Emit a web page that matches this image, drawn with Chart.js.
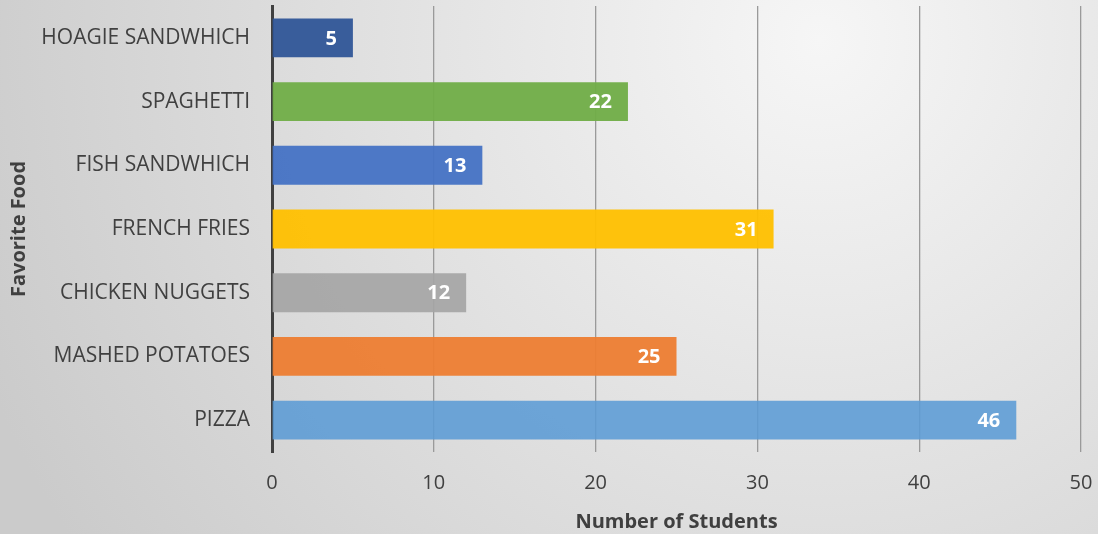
<!DOCTYPE html>
<html>
<head>
<meta charset="utf-8">
<script src="https://cdn.jsdelivr.net/npm/chart.js@4"></script>
<style>
  html, body { margin: 0; padding: 0; background: #ddd; }
  canvas { display: block; }
</style>
</head>
<body>
<canvas id="foodChart" width="1098" height="534"></canvas>
<script>
// data
var foods = ['HOAGIE SANDWHICH', 'SPAGHETTI', 'FISH SANDWHICH', 'FRENCH FRIES', 'CHICKEN NUGGETS', 'MASHED POTATOES', 'PIZZA'];
var students = [5, 22, 13, 31, 12, 25, 46];
var barColors = ['rgba(47,85,151,0.95)', 'rgba(112,173,71,0.95)', 'rgba(68,114,196,0.95)', 'rgba(255,192,0,0.95)',
                 'rgba(165,165,165,0.92)', 'rgba(237,125,49,0.95)', 'rgba(91,155,213,0.88)'];
var xTicks = [0, 10, 20, 30, 40, 50];

var FONT = '"Open Sans", "Noto Sans", sans-serif';

// grey gradient behind everything
var bgPlugin = {
  id: 'bg',
  beforeDraw: function (chart) {
    var ctx = chart.ctx;
    var g = ctx.createRadialGradient(820, 40, 0, 820, 40, 900);
    g.addColorStop(0, '#f6f6f6');
    g.addColorStop(1, '#cbcbcb');
    ctx.save();
    ctx.fillStyle = g;
    ctx.fillRect(0, 0, chart.width, chart.height);
    ctx.restore();
  }
};

// white value labels at the end of each bar
var valuePlugin = {
  id: 'values',
  afterDatasetsDraw: function (chart) {
    var ctx = chart.ctx;
    var meta = chart.getDatasetMeta(0);
    ctx.save();
    ctx.fillStyle = '#ffffff';
    ctx.font = 'bold 20px ' + FONT;
    ctx.textAlign = 'right';
    ctx.textBaseline = 'middle';
    meta.data.forEach(function (bar, i) {
      ctx.fillText(String(students[i]), bar.x - 16, bar.y + 1);
    });
    ctx.restore();
  }
};

new Chart(document.getElementById('foodChart'), {
  type: 'bar',
  data: {
    labels: foods,
    datasets: [{
      data: students,
      backgroundColor: barColors,
      borderWidth: 0,
      categoryPercentage: 1,
      barPercentage: 0.61
    }]
  },
  options: {
    responsive: false,
    animation: false,
    indexAxis: 'y',
    layout: { padding: { top: 6, right: 17, left: 0, bottom: 0 } },
    plugins: {
      legend: { display: false },
      tooltip: { enabled: false }
    },
    scales: {
      x: {
        min: 0,
        max: 50,
        afterBuildTicks: function (scale) {
          scale.ticks = xTicks.map(function (v) { return { value: v }; });
        },
        afterFit: function (scale) {
          scale.height = 82;
          scale.paddingLeft = 0;
          scale.paddingRight = 0;
        },
        grid: { color: '#9a9a9a', lineWidth: 1.3, drawTicks: false },
        border: { display: false },
        ticks: { color: '#404040', font: { family: FONT, size: 20 }, padding: 19 },
        title: {
          display: true,
          text: 'Number of Students',
          color: '#404040',
          font: { family: FONT, size: 20, weight: 'bold' },
          padding: { top: 3, bottom: 0 }
        }
      },
      y: {
        afterFit: function (scale) {
          scale.width = 272;
          scale.paddingTop = 0;
          scale.paddingBottom = 0;
        },
        grid: { display: false, drawTicks: false },
        border: { display: true, color: '#404040', width: 3 },
        ticks: { color: '#404040', font: { family: FONT, size: 21 }, padding: 22 },
        title: {
          display: true,
          text: 'Favorite Food',
          color: '#404040',
          font: { family: FONT, size: 20, weight: 'bold' },
          padding: { top: 7, bottom: 0 }
        }
      }
    }
  },
  plugins: [bgPlugin, valuePlugin]
});
</script>
</body>
</html>
